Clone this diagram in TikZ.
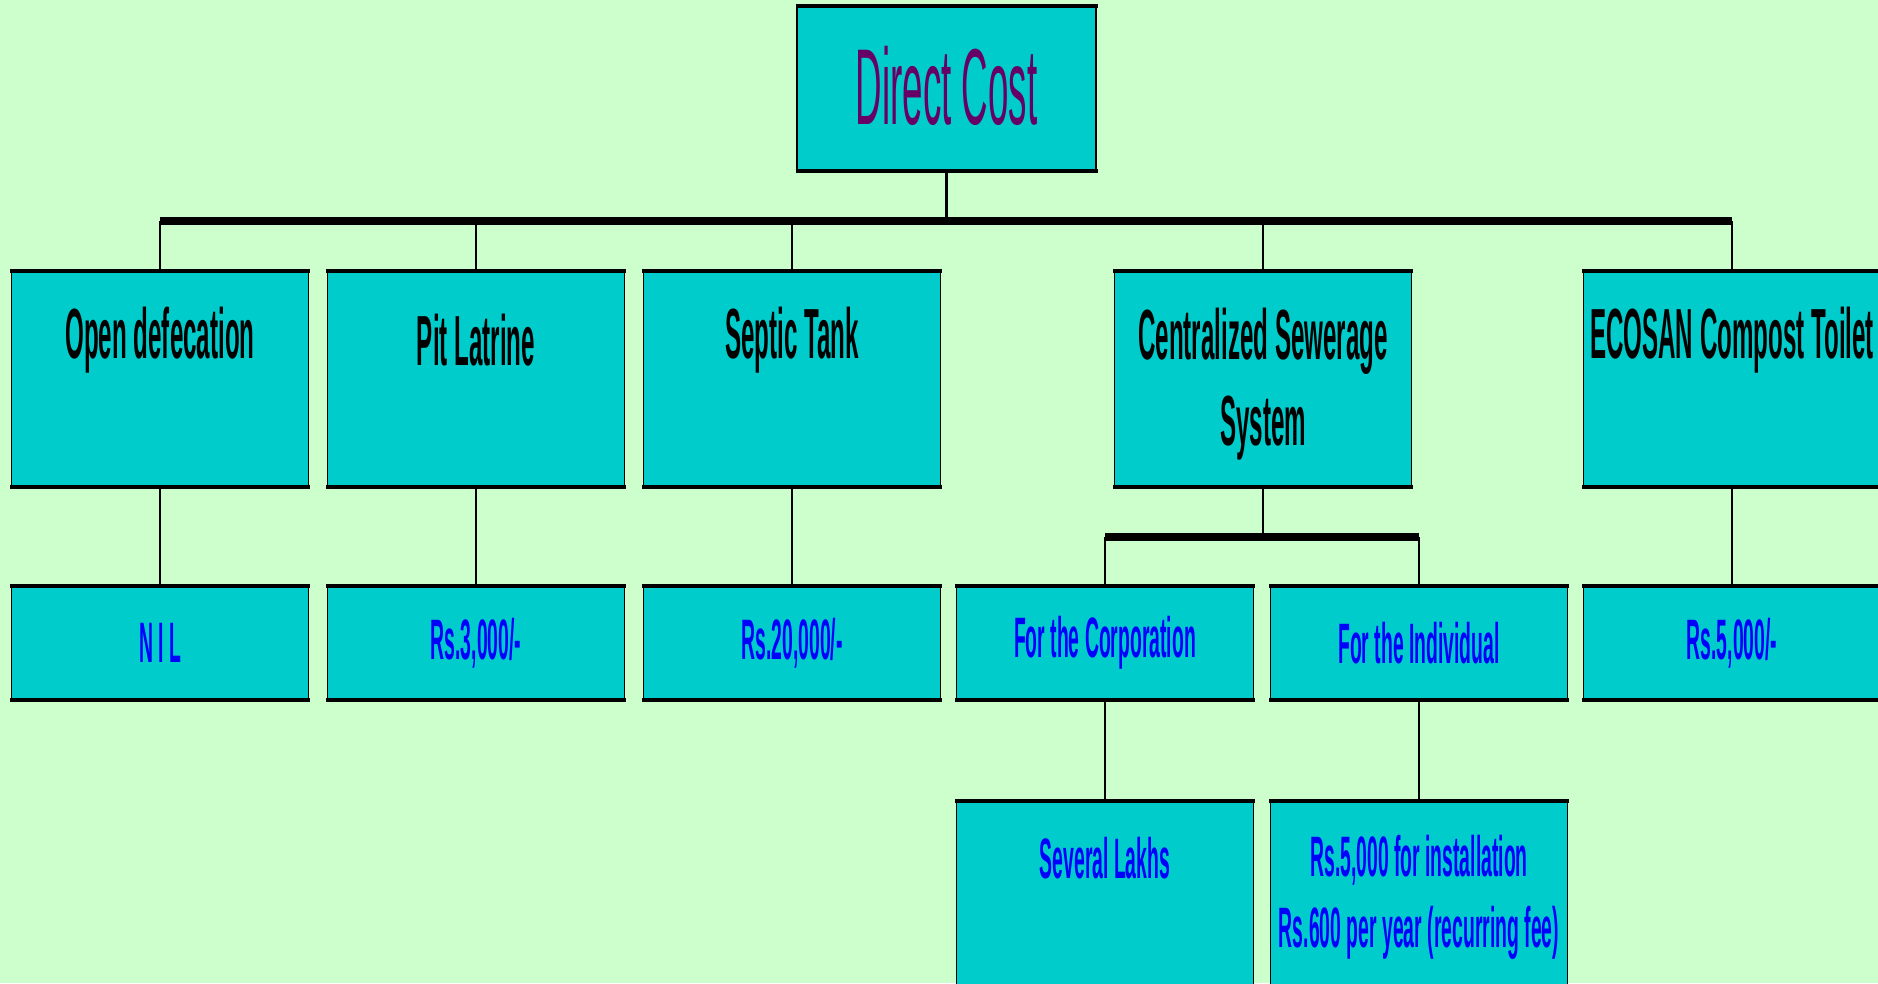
\documentclass[tikz,border=0pt]{standalone}
\usepackage{fontspec}
\newfontfamily\cond[FakeStretch=0.34]{Liberation Sans}
\definecolor{bg}{HTML}{CCFFCC}
\definecolor{boxc}{HTML}{00CCCC}
\definecolor{blu}{HTML}{0000FF}
\definecolor{pur}{HTML}{660066}
\newcommand\boxedges[1]{%
  \draw[line width=4pt] ([xshift=-0.75pt]#1.north west) -- ([xshift=0.75pt]#1.north east);
  \draw[line width=4pt] ([xshift=-0.75pt]#1.south west) -- ([xshift=0.75pt]#1.south east);}
\begin{document}
\begin{tikzpicture}[x=1pt,y=-1pt,
  box/.style={draw=black, line width=1.5pt, fill=boxc, inner sep=0pt, rectangle, minimum width=297pt},
  lvA/.style={box, minimum height=214pt},
  lvB/.style={box, minimum height=112pt},
  lvC/.style={box, minimum height=220pt},
  conn/.style={line width=2.8pt},
  bus/.style={line width=8pt},
  tA/.style={font=\cond\bfseries\fontsize{71}{86}\selectfont, align=center, text=black, inner sep=0pt},
  tB/.style={font=\cond\bfseries\fontsize{57}{71}\selectfont, align=center, text=blu, inner sep=0pt},
]
\useasboundingbox (0,0) rectangle (1878,983);
\fill[bg] (0,0) rectangle (1878,983);
\clip (0,0) rectangle (1878,983);

% top
\node[box, minimum width=299pt, minimum height=163pt] (dc) at (946.5,88.5) {};
\boxedges{dc}
\node[font=\cond\fontsize{108}{120}\selectfont, text=pur, inner sep=0pt] (dct) at (946.5,86) {Direct Cost};

% level 1
\node[lvA] (od) at (160,379) {};
\node[lvA] (pl) at (476,379) {};
\node[lvA] (st) at (792,379) {};
\node[lvA] (cs) at (1263,379) {};
\node[lvA] (ec) at (1732,379) {};
\foreach \n in {od,pl,st,cs,ec}{\boxedges{\n}}
\node[tA] (odt) at (160,340) {Open defecation};
\node[tA] (plt) at (476,340) {Pit Latrine};
\node[tA] (stt) at (792,340) {Septic Tank};
\node[tA] (cst) at (1263,384) {Centralized Sewerage\\System};
\node[tA] (ect) at (1732,340) {ECOSAN Compost Toilet};

% level 2
\node[lvB] (nil) at (160,643) {};
\node[lvB] (r3) at (476,643) {};
\node[lvB] (r20) at (792,643) {};
\node[lvB] (corp) at (1105,643) {};
\node[lvB] (ind) at (1419,643) {};
\node[lvB] (r5) at (1732,643) {};
\foreach \n in {nil,r3,r20,corp,ind,r5}{\boxedges{\n}}
\node[tB] (nilt) at (160,643) {N I L};
\node[tB] (r3t) at (476,643) {Rs.3,000/-};
\node[tB] (r20t) at (792,643) {Rs.20,000/-};
\node[tB] (corpt) at (1105,643) {For the Corporation};
\node[tB] (indt) at (1419,643) {For the Individual};
\node[tB] (r5t) at (1732,643) {Rs.5,000/-};

% level 3
\node[lvC] (lk) at (1105,912) {};
\node[lvC] (inst) at (1419,912) {};
\foreach \n in {lk,inst}{\boxedges{\n}}
\node[tB] (lkt) at (1105,858) {Several Lakhs};
\node[tB] (instt) at (1419,897) {Rs.5,000 for installation\\Rs.600 per year (recurring fee)};

% connectors
\coordinate (busL) at (160,221);
\coordinate (busR) at (1732,221);
\draw[bus] (busL) -- (busR);
\draw[conn] (dc.south) -- (dc.south |- busL);
\foreach \n in {od,pl,st,cs,ec}{\draw[conn] (\n.north) -- (\n.north |- busL);}
\draw[conn] (od.south) -- (nil.north);
\draw[conn] (pl.south) -- (r3.north);
\draw[conn] (st.south) -- (r20.north);
\draw[conn] (ec.south) -- (r5.north);
\coordinate (sbL) at (1105,537);
\coordinate (sbR) at (1419,537);
\draw[bus] (sbL) -- (sbR);
\draw[conn] (cs.south) -- (cs.south |- sbL);
\draw[conn] (corp.north) -- (sbL);
\draw[conn] (ind.north) -- (sbR);
\draw[conn] (corp.south) -- (lk.north);
\draw[conn] (ind.south) -- (inst.north);
\end{tikzpicture}
\end{document}
